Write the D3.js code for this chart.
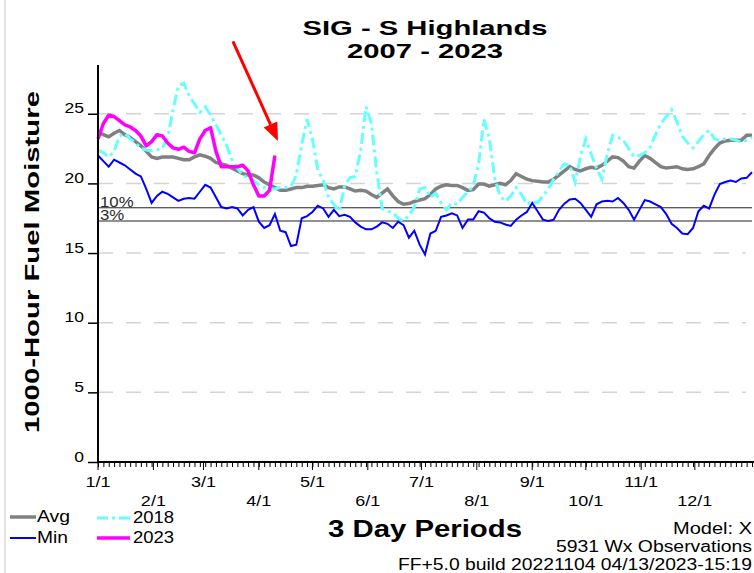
<!DOCTYPE html>
<html>
<head>
<meta charset="utf-8">
<script src="https://d3js.org/d3.v7.min.js"></script>
<style>
body { margin: 0; background: #fff; }
svg { display: block; font-family: "Liberation Sans", Arial, sans-serif; }
</style>
</head>
<body>
<svg width="754" height="573"></svg>
<script>
// one value per 3 day period, day of year = index * 3
const avg = [23.7,23.5,23.35,23.6,23.8,23.5,23.3,23.0,22.7,22.3,
  21.9,21.8,21.9,21.9,21.9,21.8,21.7,21.7,21.9,22.05,
  21.95,21.8,21.5,21.4,21.3,21.1,20.9,20.7,20.6,20.6,
  20.4,20.1,19.9,19.7,19.5,19.5,19.6,19.7,19.7,19.8,
  19.8,19.85,19.9,19.7,19.6,19.75,19.75,19.6,19.45,19.5,
  19.45,19.2,19.0,19.3,19.6,19.1,18.7,18.5,18.55,18.7,
  18.8,18.9,19.2,19.6,19.8,19.9,19.85,19.85,19.7,19.5,
  19.55,19.95,19.95,19.8,19.9,20.0,19.9,20.2,20.7,20.5,
  20.3,20.2,20.15,20.1,20.1,20.3,20.6,20.9,21.2,21.0,
  20.9,21.05,21.15,21.1,21.3,21.6,21.9,21.85,21.6,21.2,
  21.1,21.6,22.0,21.8,21.5,21.2,21.1,21.15,21.2,21.05,
  21.0,21.05,21.2,21.4,22.0,22.5,22.9,23.05,23.1,23.1,
  23.1,23.45,23.45];

const minv = [22.0,21.6,21.2,21.7,21.5,21.3,21.0,20.7,20.5,19.6,
  18.6,19.1,19.4,19.25,19.0,18.75,18.9,18.95,18.9,19.4,
  19.9,19.7,19.0,18.3,18.2,18.3,18.2,17.7,18.1,18.3,
  17.25,16.8,17.0,17.8,16.6,16.5,15.5,15.6,17.5,17.65,
  17.95,18.4,18.2,17.6,18.1,17.65,17.75,17.6,17.2,16.9,
  16.7,16.7,16.9,17.2,17.1,16.8,17.25,17.0,16.1,16.6,
  15.6,14.9,16.4,16.6,17.6,17.7,17.85,17.7,16.8,17.4,
  17.4,18.0,17.9,17.5,17.25,17.2,17.05,16.95,17.4,17.7,
  17.95,18.6,18.0,17.4,17.3,17.4,18.1,18.55,18.85,18.9,
  18.6,18.1,17.6,18.5,18.7,18.75,18.7,18.95,18.6,18.1,
  17.4,18.1,18.8,18.7,18.5,18.3,17.8,17.1,16.8,16.4,
  16.35,16.8,18.0,18.4,18.2,19.2,19.95,20.1,20.2,20.1,
  20.35,20.4,20.8];

const y2018 = [22.4,22.2,21.9,22.3,23.4,23.6,23.2,22.9,22.5,22.4,
  22.35,22.4,22.5,23.3,25.3,27.0,27.2,26.3,25.7,25.1,
  25.5,24.9,24.2,23.5,22.7,21.7,21.1,20.6,20.4,20.2,
  19.9,19.7,19.6,19.6,19.7,19.7,19.8,20.6,22.8,24.6,
  23.2,21.0,20.2,19.0,18.5,18.0,19.8,20.4,20.5,22.4,
  25.5,24.3,20.8,18.2,18.0,17.9,17.5,17.3,17.7,18.3,
  19.6,19.7,19.0,19.3,18.6,18.1,18.6,18.5,19.0,19.4,
  19.8,21.4,24.6,23.2,20.4,19.1,18.7,19.1,19.7,19.2,
  18.5,18.7,18.6,19.1,19.6,20.3,20.9,21.4,21.3,20.1,
  21.9,23.2,22.1,21.1,20.3,22.1,23.45,23.3,23.1,22.5,
  21.9,22.0,22.2,22.6,23.5,24.3,24.8,25.3,24.4,23.4,
  22.9,22.55,23.0,23.5,23.8,23.2,23.1,23.2,23.2,23.1,
  22.95,23.1,23.3];

const y2023 = [23.2,24.3,24.9,24.8,24.5,24.2,24.05,23.8,23.4,22.7,
  23.0,23.5,23.4,22.9,22.55,22.45,22.6,22.3,22.2,23.2,
  23.8,24.0,22.3,21.2,21.2,21.2,21.2,21.3,20.9,19.9,
  19.1,19.1,19.5,22.0];

const yTicks = [0, 5, 10, 15, 20, 25];
const monthDays = [0, 31, 59, 90, 120, 151, 181, 212, 243, 273, 304, 334];
const monthLabels = ["1/1","2/1","3/1","4/1","5/1","6/1","7/1","8/1","9/1","10/1","11/1","12/1"];
const pctLines = [{name: "10%", v: 18.25}, {name: "3%", v: 17.3}];

const svg = d3.select("svg");

const x = d3.scaleLinear().domain([0, 366]).range([98, 752]);
const y = d3.scaleLinear().domain([0, 28.5]).range([462, 65]);

function txt(g, s, px, py, size, weight, anchor, width) {
  const t = g.append("text").text(s)
    .attr("x", px).attr("y", py)
    .attr("font-size", size + "px")
    .attr("font-weight", weight || "normal")
    .attr("text-anchor", anchor || "start")
    .attr("fill", "#000");
  if (width) t.attr("textLength", width).attr("lengthAdjust", "spacingAndGlyphs");
  return t;
}
// stretch text sideways like the original rendering
function widen(t, k) {
  const w = t.node().getComputedTextLength();
  t.attr("textLength", w * k).attr("lengthAdjust", "spacingAndGlyphs");
}

// frame line at left
svg.append("line").attr("x1", 5).attr("x2", 5).attr("y1", 0).attr("y2", 573)
  .attr("stroke", "#c8c8c8").attr("stroke-width", 1);

// grid
svg.append("g").selectAll("line")
  .data(yTicks.filter(d => d > 0))
  .enter().append("line")
  .attr("x1", x(0)).attr("x2", 746)
  .attr("y1", d => y(d)).attr("y2", d => y(d))
  .attr("stroke", "#d4d4d4").attr("stroke-width", 1.5)
  .attr("stroke-dasharray", "15,13");

// percentile lines
const pg = svg.append("g");
pg.selectAll("line").data(pctLines).enter().append("line")
  .attr("x1", x(0)).attr("x2", 752)
  .attr("y1", d => y(d.v)).attr("y2", d => y(d.v))
  .attr("stroke", "#222").attr("stroke-width", 1);
pctLines.forEach(d => {
  const t = txt(pg, d.name, x(0) + 2, y(d.v) - 1, 15, "normal", "start").attr("fill", "#2a2a2a");
  widen(t, 1.12);
});

// series
const line = d3.line().x((d, i) => x(i * 3)).y(d => y(d));
svg.append("path").datum(avg).attr("d", line)
  .attr("fill", "none").attr("stroke", "#808080").attr("stroke-width", 3.5);
svg.append("path").datum(minv).attr("d", line)
  .attr("fill", "none").attr("stroke", "#0000ff").attr("stroke-width", 2);
svg.append("path").datum(y2018).attr("d", line)
  .attr("fill", "none").attr("stroke", "#66ffff").attr("stroke-width", 3)
  .attr("stroke-dasharray", "11,4,3,4");
svg.append("path").datum(y2023).attr("d", line)
  .attr("fill", "none").attr("stroke", "#ff00ff").attr("stroke-width", 3.5)
  .attr("stroke-linejoin", "round");

// y axis
const yAxis = svg.append("g").attr("transform", "translate(" + x(0) + ",0)")
  .call(d3.axisLeft(y).tickValues(yTicks).tickSize(10).tickFormat(""));
yAxis.select(".domain").attr("stroke-width", 2).attr("d", "M0," + y(28.5) + "V" + (y(0) + 1));
yAxis.selectAll(".tick line").attr("stroke-width", 1.5);
yTicks.forEach(v => {
  const t = txt(svg, v, 84, y(v) - 0.5, 14, "normal", "end");
  widen(t, 1.25);
});

// x axis
const xAxis = svg.append("g").attr("transform", "translate(0," + y(0) + ")")
  .call(d3.axisBottom(x).tickValues(d3.range(0, 367, 3)).tickSize(5).tickFormat(""));
xAxis.select(".domain").attr("stroke-width", 2).attr("d", "M" + (x(0) - 1) + ",0H754");
svg.append("g").attr("transform", "translate(0," + y(0) + ")")
  .selectAll("line").data(monthDays).enter().append("line")
  .attr("x1", d => x(d)).attr("x2", d => x(d)).attr("y1", 0).attr("y2", 8)
  .attr("stroke", "#000").attr("stroke-width", 1);
monthLabels.forEach((s, i) => {
  const t = txt(svg, s, x(monthDays[i]), i % 2 === 0 ? 487 : 506, 15, "normal", "middle");
  widen(t, 1.2);
});

// titles
txt(svg, "SIG - S Highlands", 425, 35, 21, "bold", "middle", 245);
txt(svg, "2007 - 2023", 425, 58, 21, "bold", "middle", 156);
txt(svg, "3 Day Periods", 425, 537, 23, "bold", "middle", 194);
txt(svg, "1000-Hour Fuel Moisture", 0, 0, 21, "bold", "middle", 342)
  .attr("transform", "translate(39,262) rotate(-90)");

txt(svg, "Model: X", 752, 534, 16, "normal", "end", 79);
txt(svg, "5931 Wx Observations", 752, 552, 16, "normal", "end", 196);
txt(svg, "FF+5.0 build 20221104 04/13/2023-15:19", 752, 570, 16, "normal", "end", 354);

// legend
const legend = [
  {name: "Avg", color: "#808080", w: 3.5, dash: null, lx: 10, ty: 522, tw: 33},
  {name: "Min", color: "#0000ff", w: 2, dash: null, lx: 10, ty: 543, tw: 31},
  {name: "2018", color: "#66ffff", w: 3, dash: "11,4,3,4", lx: 97, ty: 523, tw: 41},
  {name: "2023", color: "#ff00ff", w: 3.5, dash: null, lx: 97, ty: 543, tw: 41}
];
const lg = svg.append("g");
legend.forEach(d => {
  lg.append("line").attr("x1", d.lx).attr("x2", d.lx + (d.lx > 50 ? 33 : 26))
    .attr("y1", d.ty - 5).attr("y2", d.ty - 5)
    .attr("stroke", d.color).attr("stroke-width", d.w)
    .attr("stroke-dasharray", d.dash);
  txt(lg, d.name, d.lx + (d.lx > 50 ? 36 : 27), d.ty, 16, "normal", "start", d.tw);
});

// red arrow pointing at the latest 2023 value
const tail = [x(75.5), y(30.2)], tip = [x(100.7), y(23.05)];
const ang = Math.atan2(tip[1] - tail[1], tip[0] - tail[0]);
const hl = 18, hw = 7.5;
const bx = tip[0] - hl * Math.cos(ang), by = tip[1] - hl * Math.sin(ang);
svg.append("line").attr("x1", tail[0]).attr("y1", tail[1]).attr("x2", bx).attr("y2", by)
  .attr("stroke", "#ff0000").attr("stroke-width", 3);
svg.append("polygon")
  .attr("points", [tip,
    [bx + hw * Math.sin(ang), by - hw * Math.cos(ang)],
    [bx - hw * Math.sin(ang), by + hw * Math.cos(ang)]].map(p => p.join(",")).join(" "))
  .attr("fill", "#ff0000");
</script>
</body>
</html>
